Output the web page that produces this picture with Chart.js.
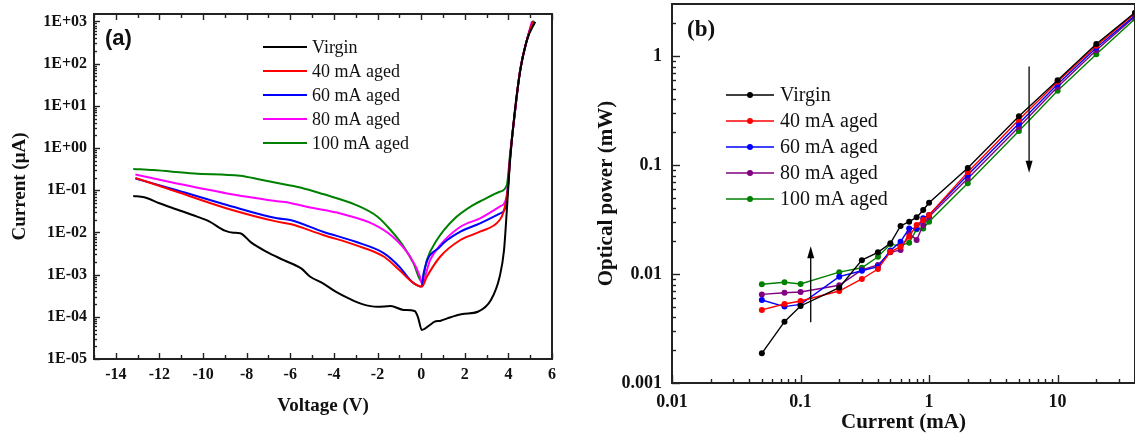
<!DOCTYPE html>
<html>
<head>
<meta charset="utf-8">
<script src="https://cdn.jsdelivr.net/npm/chart.js@4.4.1/dist/chart.umd.min.js"></script>
<style>
  html, body { margin: 0; padding: 0; background: #fff; }
  body { width: 1135px; height: 433px; position: relative; overflow: hidden; }
  #ivChart { position: absolute; left: 0; top: 0; }
  #powerChart { position: absolute; left: 565px; top: 0; }
</style>
</head>
<body>
<canvas id="ivChart" width="565" height="433"></canvas>
<canvas id="powerChart" width="570" height="433"></canvas>
<script>
// ---- panel (a): I-V curves ----
const seriesNames = ['Virgin', '40 mA aged', '60 mA aged', '80 mA aged', '100 mA aged'];
const voltTicks = [-14, -12, -10, -8, -6, -4, -2, 0, 2, 4, 6];
const currentTicksA = [1e-5, 1e-4, 1e-3, 1e-2, 1e-1, 1, 1e1, 1e2, 1e3];

const virginV = [-13.2, -12.7, -12.0, -11.2, -10.3, -9.7, -9.0, -8.6, -8.3, -7.8, -7.1, -6.3, -5.5, -5.1, -4.5, -3.9, -3.3, -2.7, -2.0, -1.4, -0.8, -0.3, -0.15, 0.03, 0.4, 0.6, 0.9, 1.2, 1.9, 2.6, 3.2, 3.6, 3.8, 3.93, 4.08, 4.3, 4.55, 4.85, 5.23];
const virginI = [0.073, 0.068, 0.049, 0.035, 0.024, 0.018, 0.011, 0.0098, 0.0096, 0.0058, 0.0035, 0.0022, 0.0014, 9.0e-4, 6.2e-4, 3.9e-4, 2.7e-4, 2.0e-4, 1.73e-4, 1.8e-4, 1.45e-4, 1.37e-4, 1.0e-4, 4.9e-5, 6.4e-5, 7.6e-5, 8.1e-5, 9.2e-5, 1.16e-4, 1.32e-4, 2.5e-4, 8.9e-4, 3.8e-3, 0.034, 0.52, 7.9, 70, 360, 984];

const aged40V = [-13.1, -11.2, -8.9, -6.6, -6.0, -4.5, -3.0, -1.7, -1.0, -0.43, 0.03, 0.26, 0.87, 1.8, 2.7, 3.6, 3.78, 3.96, 4.08, 4.31, 4.54, 4.85, 5.12];
const aged40I = [0.195, 0.092, 0.037, 0.018, 0.0158, 0.0087, 0.005, 0.00265, 0.00128, 6.8e-4, 5.2e-4, 8.9e-4, 0.00265, 0.0066, 0.0104, 0.0197, 0.031, 0.09, 0.6, 7.9, 70, 362, 1000];

const aged60V = [-13.1, -11.2, -8.9, -6.6, -6.0, -4.5, -3.0, -1.7, -1.0, -0.43, 0.03, 0.11, 0.87, 1.8, 2.7, 3.6, 3.85, 3.96, 4.08, 4.31, 4.54, 4.85, 5.12];
const aged60I = [0.19, 0.10, 0.0446, 0.0216, 0.0197, 0.0104, 0.006, 0.0032, 0.00154, 6.8e-4, 5.2e-4, 0.00107, 0.0046, 0.0104, 0.0164, 0.028, 0.037, 0.092, 0.6, 7.9, 70, 362, 1000];

const aged80V = [-13.1, -11.2, -8.9, -6.6, -6.0, -5.2, -3.7, -2.2, -1.3, -0.5, -0.05, 0.03, 0.41, 0.87, 1.8, 2.7, 3.6, 3.85, 3.96, 4.08, 4.31, 4.54, 4.85, 5.08];
const aged80I = [0.237, 0.145, 0.084, 0.055, 0.05, 0.04, 0.028, 0.0158, 0.0079, 0.00265, 8.9e-4, 6.2e-4, 0.0022, 0.005, 0.0136, 0.0216, 0.041, 0.053, 0.10, 0.6, 7.9, 70, 362, 1000];

const aged100V = [-13.2, -12.3, -10.4, -8.3, -7.4, -6.3, -5.5, -4.5, -3.0, -2.0, -1.4, -0.8, -0.35, 0.03, 0.26, 0.72, 1.48, 2.4, 2.84, 3.6, 3.93, 4.08, 4.31, 4.54, 4.85, 5.15];
const aged100I = [0.32, 0.30, 0.25, 0.22, 0.18, 0.138, 0.115, 0.081, 0.045, 0.0236, 0.0114, 0.0046, 0.00185, 6.8e-4, 0.0022, 0.0066, 0.02, 0.045, 0.059, 0.092, 0.133, 0.75, 7.9, 70, 362, 1050];

// ---- panel (b): L-I curves ----
const driveCurrent = [0.05, 0.075, 0.1, 0.2, 0.3, 0.4, 0.5, 0.6, 0.7, 0.8, 0.9, 1, 2, 5, 10, 20, 40];
const virginP = [0.00187, 0.00365, 0.00509, 0.0075, 0.0134, 0.0158, 0.0191, 0.0276, 0.0302, 0.0331, 0.0387, 0.0451, 0.094, 0.28, 0.60, 1.29, 2.5];
const aged40P = [0.00468, 0.0053, 0.00565, 0.00698, 0.009, 0.0111, 0.016, 0.0178, 0.022, 0.0282, 0.0313, 0.0348, 0.086, 0.26, 0.58, 1.24, 2.45];
const aged60P = [0.00577, 0.00502, 0.00527, 0.00945, 0.0107, 0.0117, 0.0164, 0.0198, 0.0262, 0.0262, 0.0324, 0.0348, 0.081, 0.24, 0.55, 1.19, 2.35];
const aged80P = [0.0065, 0.00674, 0.00684, 0.00788, 0.0109, 0.0121, 0.0158, 0.0166, 0.0236, 0.0205, 0.0282, 0.0336, 0.075, 0.223, 0.52, 1.13, 2.3];
const aged100P = [0.00805, 0.0084, 0.0081, 0.0104, 0.0114, 0.0144, 0.0187, 0.0182, 0.0194, 0.0257, 0.0262, 0.0302, 0.068, 0.205, 0.48, 1.04, 2.2];
const currentTicksB = [0.01, 0.1, 1, 10];
const powerTicksB = [0.001, 0.01, 0.1, 1];

// trend arrows (x, y pairs from tail to head)
const upArrowX = [0.12, 0.12];
const upArrowY = [0.0036, 0.018];
const downArrowX = [6, 6];
const downArrowY = [0.8, 0.085];

const SERIF = '"Liberation Serif", "Times New Roman", serif';
const SANS = '"Liberation Sans", Arial, sans-serif';
const INK = '#111';
const colorsA = ['#000000', '#ff0000', '#0000ff', '#ff00ff', '#008000'];
const colorsB = ['#000000', '#ff0000', '#0000ff', '#800080', '#008000'];

function zip(xs, ys) {
    return xs.map((x, i) => ({ x: x, y: ys[i] }));
}

function logMinors(lo, hi) {
    const out = [];
    for (let e = Math.floor(Math.log10(lo)); e <= Math.ceil(Math.log10(hi)); e++) {
        for (let m = 2; m <= 9; m++) {
            const v = m * Math.pow(10, e);
            if (v > lo && v < hi) out.push(v);
        }
    }
    return out;
}

// fixed axis box, no extra label padding from chart.js
function fixBox(size) {
    return s => {
        if (s.isHorizontal()) s.height = size; else s.width = size;
        s.paddingTop = 0;
        s.paddingBottom = 0;
        s.paddingLeft = 0;
        s.paddingRight = 0;
    };
}

// box frame + inward tick marks
const frameTicks = {
    id: 'frameTicks',
    afterDraw(chart, args, opts) {
        const { ctx, chartArea: a, scales } = chart;
        ctx.save();
        ctx.strokeStyle = '#222';
        ctx.lineWidth = 1.4;
        const mark = (axis, v, len, side) => {
            const s = scales[axis];
            const p = Math.round(s.getPixelForValue(v)) + 0.5;
            ctx.beginPath();
            if (side === 'bottom') { ctx.moveTo(p, a.bottom); ctx.lineTo(p, a.bottom - len); }
            if (side === 'top') { ctx.moveTo(p, a.top); ctx.lineTo(p, a.top + len); }
            if (side === 'left') { ctx.moveTo(a.left, p); ctx.lineTo(a.left + len, p); }
            ctx.stroke();
        };
        opts.marks.forEach(m => {
            m.sides.forEach(side => {
                m.major.forEach(v => mark(m.axis, v, m.majorLen, side));
                m.minor.forEach(v => mark(m.axis, v, m.minorLen, side));
            });
        });
        ctx.lineWidth = 2;
        ctx.strokeRect(a.left, a.top, a.right - a.left, a.bottom - a.top);
        ctx.restore();
    }
};

// hand placed legend like the original figure
const boxLegend = {
    id: 'boxLegend',
    afterDraw(chart, args, opts) {
        const ctx = chart.ctx;
        ctx.save();
        ctx.font = opts.font;
        ctx.textBaseline = 'middle';
        ctx.fillStyle = INK;
        chart.data.datasets.forEach((ds, i) => {
            const y = opts.y0 + i * opts.dy;
            ctx.strokeStyle = ds.borderColor;
            ctx.lineWidth = opts.lineWidth;
            ctx.beginPath();
            ctx.moveTo(opts.x0, y);
            ctx.lineTo(opts.x1, y);
            ctx.stroke();
            if (opts.marker) {
                ctx.fillStyle = ds.borderColor;
                ctx.beginPath();
                ctx.arc((opts.x0 + opts.x1) / 2, y, 3, 0, Math.PI * 2);
                ctx.fill();
            }
            ctx.fillStyle = INK;
            ctx.fillText(ds.label, opts.tx, y + 1);
        });
        ctx.font = opts.tagFont;
        ctx.fillText(opts.tag, opts.tagX, opts.tagY);
        ctx.restore();
    }
};

const trendArrows = {
    id: 'trendArrows',
    afterDraw(chart, args, opts) {
        const { ctx, scales } = chart;
        ctx.save();
        ctx.strokeStyle = '#000';
        ctx.fillStyle = '#000';
        ctx.lineWidth = 1.3;
        opts.arrows.forEach(([xs, ys]) => {
            const x0 = scales.x.getPixelForValue(xs[0]), y0 = scales.y.getPixelForValue(ys[0]);
            const x1 = scales.x.getPixelForValue(xs[1]), y1 = scales.y.getPixelForValue(ys[1]);
            const dir = Math.sign(y1 - y0);
            ctx.beginPath();
            ctx.moveTo(x0, y0);
            ctx.lineTo(x1, y1 - dir * 8);
            ctx.stroke();
            ctx.beginPath();
            ctx.moveTo(x1, y1);
            ctx.lineTo(x1 - 3.5, y1 - dir * 12);
            ctx.lineTo(x1 + 3.5, y1 - dir * 12);
            ctx.closePath();
            ctx.fill();
        });
        ctx.restore();
    }
};

function expLabel(v) {
    const e = Math.round(Math.log10(v));
    return '1E' + (e < 0 ? '-' : '+') + String(Math.abs(e)).padStart(2, '0');
}

// ---- chart (a) ----
const ivSeries = [[virginV, virginI], [aged40V, aged40I], [aged60V, aged60I], [aged80V, aged80I], [aged100V, aged100I]];

new Chart(document.getElementById('ivChart'), {
    type: 'line',
    data: {
        datasets: ivSeries.map(([v, i], k) => ({
            label: seriesNames[k],
            data: zip(v, i),
            borderColor: colorsA[k],
            borderWidth: 2,
            pointRadius: 0,
            cubicInterpolationMode: 'monotone',
            fill: false
        }))
    },
    options: {
        responsive: false,
        animation: false,
        devicePixelRatio: 1,
        layout: { autoPadding: false, padding: { top: 14, right: 13, left: 0, bottom: 0 } },
        plugins: {
            legend: { display: false },
            tooltip: { enabled: false },
            frameTicks: {
                marks: [
                    { axis: 'x', sides: ['bottom', 'top'], major: voltTicks, minor: [-15, -13, -11, -9, -7, -5, -3, -1, 1, 3, 5], majorLen: 6, minorLen: 4 },
                    { axis: 'y', sides: ['left'], major: currentTicksA, minor: logMinors(1e-5, 1.5e3), majorLen: 6, minorLen: 3 }
                ]
            },
            boxLegend: {
                x0: 263, x1: 307, tx: 312, y0: 47, dy: 24, lineWidth: 2, marker: false,
                font: '18px ' + SERIF,
                tag: '(a)', tagX: 105, tagY: 39, tagFont: 'bold 22px ' + SANS
            }
        },
        scales: {
            x: {
                type: 'linear',
                min: -15,
                max: 6,
                afterBuildTicks: s => { s.ticks = voltTicks.map(v => ({ value: v })); },
                afterFit: fixBox(74),
                grid: { display: false, drawTicks: false },
                border: { display: false },
                ticks: { color: INK, padding: 6, maxRotation: 0, font: { family: SERIF, size: 16, weight: 'bold' } },
                title: { display: true, text: 'Voltage (V)', color: INK, padding: { top: 0, bottom: 16 }, font: { family: SERIF, size: 19, weight: 'bold' } }
            },
            y: {
                type: 'logarithmic',
                min: 1e-5,
                max: 1.5e3,
                afterBuildTicks: s => { s.ticks = currentTicksA.map(v => ({ value: v })); },
                afterFit: fixBox(94),
                grid: { display: false, drawTicks: false },
                border: { display: false },
                ticks: { color: INK, padding: 7, callback: v => expLabel(v), font: { family: SERIF, size: 16, weight: 'bold' } },
                title: { display: true, text: 'Current (\u03bcA)', color: INK, padding: { top: 9, bottom: 0 }, font: { family: SERIF, size: 19, weight: 'bold' } }
            }
        }
    },
    plugins: [frameTicks, boxLegend]
});

// ---- chart (b) ----
const powerSeries = [virginP, aged40P, aged60P, aged80P, aged100P];

new Chart(document.getElementById('powerChart'), {
    type: 'line',
    data: {
        datasets: powerSeries.map((p, k) => ({
            label: seriesNames[k],
            data: zip(driveCurrent, p),
            borderColor: colorsB[k],
            backgroundColor: colorsB[k],
            borderWidth: 1.4,
            pointRadius: 3,
            pointBorderWidth: 0,
            tension: 0,
            fill: false
        }))
    },
    options: {
        responsive: false,
        animation: false,
        devicePixelRatio: 1,
        layout: { autoPadding: false, padding: { top: 4, right: 0, left: 0, bottom: 0 } },
        plugins: {
            legend: { display: false },
            tooltip: { enabled: false },
            frameTicks: {
                marks: [
                    { axis: 'x', sides: ['bottom'], major: currentTicksB, minor: logMinors(0.01, 40), majorLen: 8, minorLen: 4 },
                    { axis: 'y', sides: ['left'], major: powerTicksB, minor: logMinors(0.001, 3), majorLen: 8, minorLen: 4 }
                ]
            },
            boxLegend: {
                x0: 161, x1: 209, tx: 215, y0: 95, dy: 26, lineWidth: 1.4, marker: true,
                font: '20px ' + SERIF,
                tag: '(b)', tagX: 122, tagY: 30, tagFont: 'bold 23px ' + SERIF
            },
            trendArrows: {
                arrows: [[upArrowX, upArrowY], [downArrowX, downArrowY]]
            }
        },
        scales: {
            x: {
                type: 'logarithmic',
                min: 0.01,
                max: 40,
                afterBuildTicks: s => { s.ticks = currentTicksB.map(v => ({ value: v })); },
                afterFit: fixBox(50),
                grid: { display: false, drawTicks: false },
                border: { display: false },
                ticks: { color: INK, padding: 9, maxRotation: 0, callback: v => String(v), font: { family: SERIF, size: 18, weight: 'bold' } },
                title: { display: true, text: 'Current (mA)', color: INK, padding: { top: 0, bottom: -2 }, font: { family: SERIF, size: 21, weight: 'bold' } }
            },
            y: {
                type: 'logarithmic',
                min: 0.001,
                max: 3,
                afterBuildTicks: s => { s.ticks = powerTicksB.map(v => ({ value: v })); },
                afterFit: fixBox(107),
                grid: { display: false, drawTicks: false },
                border: { display: false },
                ticks: { color: INK, padding: 10, callback: v => String(v), font: { family: SERIF, size: 18, weight: 'bold' } },
                title: { display: true, text: 'Optical power (mW)', color: INK, padding: { top: 29, bottom: 0 }, font: { family: SERIF, size: 21, weight: 'bold' } }
            }
        }
    },
    plugins: [frameTicks, boxLegend, trendArrows]
});
</script>
</body>
</html>
